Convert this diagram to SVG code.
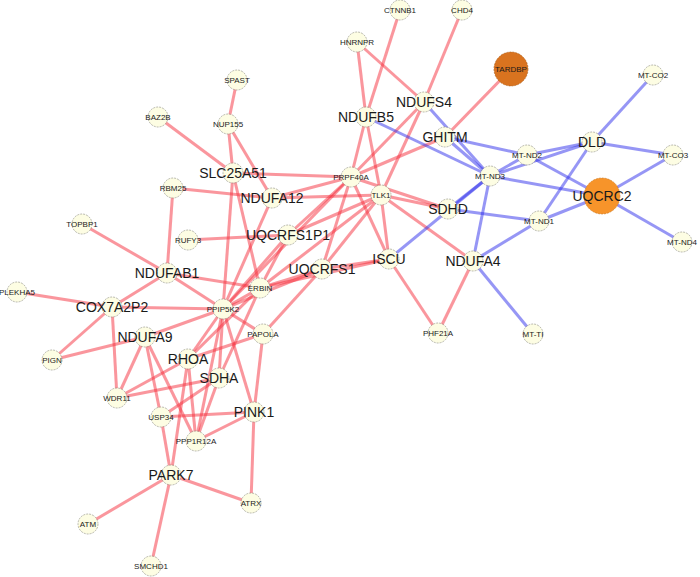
<svg xmlns="http://www.w3.org/2000/svg" width="700" height="577" viewBox="0 0 700 577">
<style>
.er{stroke:rgb(245,45,60);stroke-opacity:0.5;stroke-width:3;fill:none}
.eb{stroke:rgb(45,45,235);stroke-opacity:0.5;stroke-width:3;fill:none}
.n circle{fill:#fdfde3;stroke:#8a8a7a;stroke-width:0.6;stroke-dasharray:2 1}
.n text{font-family:"Liberation Sans",Arial,sans-serif;fill:#1a1a1a;text-anchor:middle}
.s{font-size:8px}
.b{font-size:14px}
</style>
<rect width="700" height="577" fill="#ffffff"/>
<g id="edges">
<line class="er" x1="400" y1="10" x2="366" y2="117"/>
<line class="er" x1="357" y1="42" x2="366" y2="117"/>
<line class="er" x1="357" y1="42" x2="424" y2="102"/>
<line class="er" x1="462" y1="10" x2="424" y2="102"/>
<line class="er" x1="424" y1="102" x2="351" y2="177"/>
<line class="er" x1="424" y1="102" x2="381" y2="195"/>
<line class="er" x1="366" y1="117" x2="351" y2="177"/>
<line class="er" x1="366" y1="117" x2="381" y2="195"/>
<line class="er" x1="511" y1="69" x2="445" y2="137"/>
<line class="er" x1="445" y1="137" x2="351" y2="177"/>
<line class="er" x1="237" y1="80" x2="228" y2="124"/>
<line class="er" x1="228" y1="124" x2="233" y2="173"/>
<line class="er" x1="228" y1="124" x2="272" y2="198"/>
<line class="er" x1="158" y1="117" x2="233" y2="173"/>
<line class="er" x1="233" y1="173" x2="351" y2="177"/>
<line class="er" x1="233" y1="173" x2="260" y2="288"/>
<line class="er" x1="233" y1="173" x2="223" y2="309"/>
<line class="er" x1="173" y1="188" x2="272" y2="198"/>
<line class="er" x1="173" y1="188" x2="167" y2="273"/>
<line class="er" x1="272" y1="198" x2="351" y2="177"/>
<line class="er" x1="272" y1="198" x2="381" y2="195"/>
<line class="er" x1="272" y1="198" x2="223" y2="309"/>
<line class="er" x1="188" y1="240" x2="288" y2="235"/>
<line class="er" x1="288" y1="235" x2="351" y2="177"/>
<line class="er" x1="288" y1="235" x2="381" y2="195"/>
<line class="er" x1="288" y1="235" x2="223" y2="309"/>
<line class="er" x1="288" y1="235" x2="260" y2="288"/>
<line class="er" x1="322" y1="269" x2="351" y2="177"/>
<line class="er" x1="322" y1="269" x2="381" y2="195"/>
<line class="er" x1="322" y1="269" x2="389" y2="259"/>
<line class="er" x1="322" y1="269" x2="260" y2="288"/>
<line class="er" x1="322" y1="269" x2="223" y2="309"/>
<line class="er" x1="322" y1="269" x2="263" y2="334"/>
<line class="er" x1="260" y1="288" x2="389" y2="259"/>
<line class="er" x1="351" y1="177" x2="389" y2="259"/>
<line class="er" x1="381" y1="195" x2="389" y2="259"/>
<line class="er" x1="351" y1="177" x2="448" y2="209"/>
<line class="er" x1="381" y1="195" x2="448" y2="209"/>
<line class="er" x1="381" y1="195" x2="473" y2="261"/>
<line class="er" x1="223" y1="309" x2="351" y2="177"/>
<line class="er" x1="260" y1="288" x2="381" y2="195"/>
<line class="er" x1="389" y1="259" x2="438" y2="333"/>
<line class="er" x1="473" y1="261" x2="438" y2="333"/>
<line class="er" x1="82" y1="224" x2="167" y2="273"/>
<line class="er" x1="167" y1="273" x2="112" y2="307"/>
<line class="er" x1="167" y1="273" x2="223" y2="309"/>
<line class="er" x1="167" y1="273" x2="260" y2="288"/>
<line class="er" x1="17" y1="292" x2="112" y2="307"/>
<line class="er" x1="112" y1="307" x2="223" y2="309"/>
<line class="er" x1="112" y1="307" x2="52" y2="360"/>
<line class="er" x1="112" y1="307" x2="117" y2="398"/>
<line class="er" x1="52" y1="360" x2="145" y2="337"/>
<line class="er" x1="145" y1="337" x2="223" y2="309"/>
<line class="er" x1="145" y1="337" x2="117" y2="398"/>
<line class="er" x1="145" y1="337" x2="161" y2="417"/>
<line class="er" x1="145" y1="337" x2="196" y2="441"/>
<line class="er" x1="223" y1="309" x2="188" y2="359"/>
<line class="er" x1="223" y1="309" x2="219" y2="378"/>
<line class="er" x1="223" y1="309" x2="254" y2="412"/>
<line class="er" x1="223" y1="309" x2="196" y2="441"/>
<line class="er" x1="223" y1="309" x2="260" y2="288"/>
<line class="er" x1="223" y1="309" x2="263" y2="334"/>
<line class="er" x1="260" y1="288" x2="219" y2="378"/>
<line class="er" x1="260" y1="288" x2="188" y2="359"/>
<line class="er" x1="188" y1="359" x2="263" y2="334"/>
<line class="er" x1="188" y1="359" x2="117" y2="398"/>
<line class="er" x1="188" y1="359" x2="196" y2="441"/>
<line class="er" x1="219" y1="378" x2="117" y2="398"/>
<line class="er" x1="219" y1="378" x2="161" y2="417"/>
<line class="er" x1="219" y1="378" x2="196" y2="441"/>
<line class="er" x1="263" y1="334" x2="254" y2="412"/>
<line class="er" x1="161" y1="417" x2="254" y2="412"/>
<line class="er" x1="196" y1="441" x2="254" y2="412"/>
<line class="er" x1="161" y1="417" x2="171" y2="475"/>
<line class="er" x1="171" y1="475" x2="188" y2="359"/>
<line class="er" x1="171" y1="475" x2="88" y2="524"/>
<line class="er" x1="171" y1="475" x2="151" y2="566"/>
<line class="er" x1="171" y1="475" x2="251" y2="503"/>
<line class="er" x1="254" y1="412" x2="251" y2="503"/>
<line class="eb" x1="366" y1="117" x2="490" y2="176"/>
<line class="eb" x1="424" y1="102" x2="490" y2="176"/>
<line class="eb" x1="445" y1="137" x2="490" y2="176"/>
<line class="eb" x1="445" y1="137" x2="527" y2="155"/>
<line class="eb" x1="490" y1="176" x2="527" y2="155"/>
<line class="eb" x1="490" y1="176" x2="592" y2="142"/>
<line class="eb" x1="527" y1="155" x2="592" y2="142"/>
<line class="eb" x1="527" y1="155" x2="602" y2="196"/>
<line class="eb" x1="490" y1="176" x2="602" y2="196"/>
<line class="eb" x1="592" y1="142" x2="653" y2="75"/>
<line class="eb" x1="592" y1="142" x2="673" y2="155"/>
<line class="eb" x1="592" y1="142" x2="539" y2="221"/>
<line class="eb" x1="602" y1="196" x2="673" y2="155"/>
<line class="eb" x1="602" y1="196" x2="682" y2="242"/>
<line class="eb" x1="602" y1="196" x2="539" y2="221"/>
<line class="eb" x1="448" y1="209" x2="539" y2="221"/>
<line class="eb" x1="539" y1="221" x2="473" y2="261"/>
<line class="eb" x1="473" y1="261" x2="533" y2="334"/>
<line class="eb" x1="473" y1="261" x2="490" y2="176"/>
<line class="eb" x1="448" y1="209" x2="490" y2="176"/>
<line class="eb" x1="389" y1="259" x2="490" y2="176"/>
</g>
<g id="n-CTNNB1" class="n"><circle cx="400" cy="10" r="10"/><text class="s" x="400" y="13">CTNNB1</text></g>
<g id="n-CHD4" class="n"><circle cx="462" cy="10" r="10"/><text class="s" x="462" y="13">CHD4</text></g>
<g id="n-HNRNPR" class="n"><circle cx="357" cy="42" r="10"/><text class="s" x="357" y="45">HNRNPR</text></g>
<g id="n-SPAST" class="n"><circle cx="237" cy="80" r="10"/><text class="s" x="237" y="83">SPAST</text></g>
<g id="n-NUP155" class="n"><circle cx="228" cy="124" r="10"/><text class="s" x="228" y="127">NUP155</text></g>
<g id="n-BAZ2B" class="n"><circle cx="158" cy="117" r="10"/><text class="s" x="158" y="120">BAZ2B</text></g>
<g id="n-TARDBP" class="n"><circle cx="511" cy="69" r="17" style="fill:#d9731f;stroke:#a85a18"/><text class="s" x="511" y="72">TARDBP</text></g>
<g id="n-MT-CO2" class="n"><circle cx="653" cy="75" r="10"/><text class="s" x="653" y="78">MT-CO2</text></g>
<g id="n-NDUFS4" class="n"><circle cx="424" cy="102" r="10"/><text class="b" x="424" y="107">NDUFS4</text></g>
<g id="n-NDUFB5" class="n"><circle cx="366" cy="117" r="10"/><text class="b" x="366" y="122">NDUFB5</text></g>
<g id="n-GHITM" class="n"><circle cx="445" cy="137" r="10"/><text class="b" x="445" y="142">GHITM</text></g>
<g id="n-MT-ND2" class="n"><circle cx="527" cy="155" r="10"/><text class="s" x="527" y="158">MT-ND2</text></g>
<g id="n-DLD" class="n"><circle cx="592" cy="142" r="10"/><text class="b" x="592" y="147">DLD</text></g>
<g id="n-MT-CO3" class="n"><circle cx="673" cy="155" r="10"/><text class="s" x="673" y="158">MT-CO3</text></g>
<g id="n-MT-ND3" class="n"><circle cx="490" cy="176" r="10"/><text class="s" x="490" y="179">MT-ND3</text></g>
<g id="n-UQCRC2" class="n"><circle cx="602" cy="196" r="18" style="fill:#f7942a;stroke:#c87520"/><text class="b" x="602" y="201">UQCRC2</text></g>
<g id="n-MT-ND4" class="n"><circle cx="682" cy="242" r="10"/><text class="s" x="682" y="245">MT-ND4</text></g>
<g id="n-MT-ND1" class="n"><circle cx="539" cy="221" r="10"/><text class="s" x="539" y="224">MT-ND1</text></g>
<g id="n-SDHD" class="n"><circle cx="448" cy="209" r="10"/><text class="b" x="448" y="214">SDHD</text></g>
<g id="n-NDUFA4" class="n"><circle cx="473" cy="261" r="10"/><text class="b" x="473" y="266">NDUFA4</text></g>
<g id="n-MT-TI" class="n"><circle cx="533" cy="334" r="10"/><text class="s" x="533" y="337">MT-TI</text></g>
<g id="n-PHF21A" class="n"><circle cx="438" cy="333" r="10"/><text class="s" x="438" y="336">PHF21A</text></g>
<g id="n-ISCU" class="n"><circle cx="389" cy="259" r="10"/><text class="b" x="389" y="264">ISCU</text></g>
<g id="n-TLK1" class="n"><circle cx="381" cy="195" r="10"/><text class="s" x="381" y="198">TLK1</text></g>
<g id="n-PRPF40A" class="n"><circle cx="351" cy="177" r="10"/><text class="s" x="351" y="180">PRPF40A</text></g>
<g id="n-SLC25A51" class="n"><circle cx="233" cy="173" r="10"/><text class="b" x="233" y="178">SLC25A51</text></g>
<g id="n-RBM25" class="n"><circle cx="173" cy="188" r="10"/><text class="s" x="173" y="191">RBM25</text></g>
<g id="n-NDUFA12" class="n"><circle cx="272" cy="198" r="10"/><text class="b" x="272" y="203">NDUFA12</text></g>
<g id="n-UQCRFS1P1" class="n"><circle cx="288" cy="235" r="10"/><text class="b" x="288" y="240">UQCRFS1P1</text></g>
<g id="n-RUFY3" class="n"><circle cx="188" cy="240" r="10"/><text class="s" x="188" y="243">RUFY3</text></g>
<g id="n-UQCRFS1" class="n"><circle cx="322" cy="269" r="10"/><text class="b" x="322" y="274">UQCRFS1</text></g>
<g id="n-TOPBP1" class="n"><circle cx="82" cy="224" r="10"/><text class="s" x="82" y="227">TOPBP1</text></g>
<g id="n-NDUFAB1" class="n"><circle cx="167" cy="273" r="10"/><text class="b" x="167" y="278">NDUFAB1</text></g>
<g id="n-PLEKHA5" class="n"><circle cx="17" cy="292" r="10"/><text class="s" x="17" y="295">PLEKHA5</text></g>
<g id="n-COX7A2P2" class="n"><circle cx="112" cy="307" r="10"/><text class="b" x="112" y="312">COX7A2P2</text></g>
<g id="n-PPIP5K2" class="n"><circle cx="223" cy="309" r="10"/><text class="s" x="223" y="312">PPIP5K2</text></g>
<g id="n-ERBIN" class="n"><circle cx="260" cy="288" r="10"/><text class="s" x="260" y="291">ERBIN</text></g>
<g id="n-NDUFA9" class="n"><circle cx="145" cy="337" r="10"/><text class="b" x="145" y="342">NDUFA9</text></g>
<g id="n-PIGN" class="n"><circle cx="52" cy="360" r="10"/><text class="s" x="52" y="363">PIGN</text></g>
<g id="n-RHOA" class="n"><circle cx="188" cy="359" r="10"/><text class="b" x="188" y="364">RHOA</text></g>
<g id="n-PAPOLA" class="n"><circle cx="263" cy="334" r="10"/><text class="s" x="263" y="337">PAPOLA</text></g>
<g id="n-SDHA" class="n"><circle cx="219" cy="378" r="10"/><text class="b" x="219" y="383">SDHA</text></g>
<g id="n-WDR11" class="n"><circle cx="117" cy="398" r="10"/><text class="s" x="117" y="401">WDR11</text></g>
<g id="n-USP34" class="n"><circle cx="161" cy="417" r="10"/><text class="s" x="161" y="420">USP34</text></g>
<g id="n-PINK1" class="n"><circle cx="254" cy="412" r="10"/><text class="b" x="254" y="417">PINK1</text></g>
<g id="n-PPP1R12A" class="n"><circle cx="196" cy="441" r="10"/><text class="s" x="196" y="444">PPP1R12A</text></g>
<g id="n-PARK7" class="n"><circle cx="171" cy="475" r="10"/><text class="b" x="171" y="480">PARK7</text></g>
<g id="n-ATRX" class="n"><circle cx="251" cy="503" r="10"/><text class="s" x="251" y="506">ATRX</text></g>
<g id="n-ATM" class="n"><circle cx="88" cy="524" r="10"/><text class="s" x="88" y="527">ATM</text></g>
<g id="n-SMCHD1" class="n"><circle cx="151" cy="566" r="10"/><text class="s" x="151" y="569">SMCHD1</text></g>
</svg>
